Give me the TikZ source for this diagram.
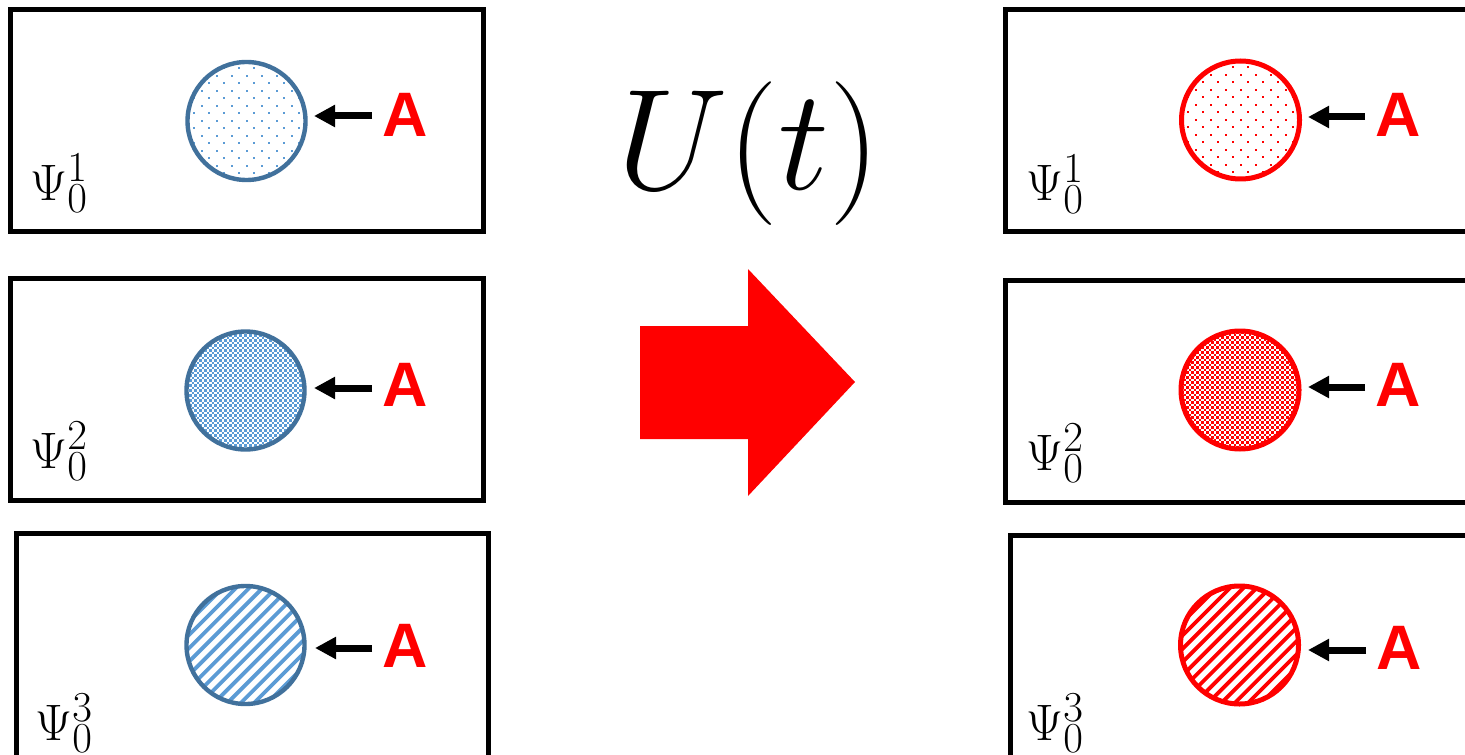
\documentclass[tikz,border=0pt]{standalone}
\usepackage{fontspec}
\newfontfamily\arialfont{Liberation Sans}
\usetikzlibrary{arrows.meta}
\definecolor{bstroke}{HTML}{41719C}
\definecolor{bfill}{HTML}{5B9BD5}
\definecolor{rred}{HTML}{FF0000}
\tikzset{
  framebox/.style={draw=black, line width=2.5pt},
  probe/.style={draw=black, line width=3.5pt, -{Triangle[length=10.5pt,width=10.5pt]}},
  alabel/.style={text=rred, font=\arialfont\bfseries\fontsize{31.4}{36}\selectfont, inner sep=0pt},
  psilabel/.style={anchor=base west, inner sep=0pt, scale=1.03, font=\fontsize{24.88}{30}\selectfont},
  bigmath/.style={anchor=base, inner sep=0pt, scale=2.89, font=\fontsize{24.88}{30}\selectfont},
  blobb/.style={circle, draw=bstroke, line width=2.2pt, minimum size=59pt, inner sep=0pt},
  blobr/.style={circle, draw=rred, line width=2.5pt, minimum size=59pt, inner sep=0pt},
  bigarrow/.style={fill=rred, draw=none},
}
% sparse offset dots: cx cy colour
\newcommand\sparsedots[3]{%
  \begin{scope}
    \clip (#1,#2) circle (59);
    \foreach \j in {0,...,16}{
      \pgfmathsetmacro\yy{#2-60+7.5*\j}
      \pgfmathsetmacro\off{7.5*mod(\j,2)}
      \foreach \i in {0,...,8}{
        \fill[#3] ({#1-60+\off+15*\i-1},{\yy-1}) rectangle ++(2,2);
      }
    }
  \end{scope}}
% dense offset dots
\newcommand\densedots[3]{%
  \begin{scope}
    \clip (#1,#2) circle (59);
    \foreach \j in {0,...,48}{
      \pgfmathsetmacro\yy{#2-60+2.5*\j}
      \pgfmathsetmacro\off{2.5*mod(\j,2)}
      \foreach \i in {0,...,24}{
        \fill[#3] ({#1-60+\off+5*\i-1.1},{\yy-1.1}) rectangle ++(2.2,2.2);
      }
    }
  \end{scope}}
% diagonal stripes
\newcommand\stripes[3]{%
  \begin{scope}
    \clip (#1,#2) circle (59);
    \foreach \k in {-12,...,12}{
      \draw[#3, line width=1.9pt] ({#1+13.3*\k-80},{#2+80}) -- ({#1+13.3*\k+80},{#2-80});
    }
  \end{scope}}
\begin{document}
\begin{tikzpicture}[x=0.5pt,y=-0.5pt]
\clip (0,0) rectangle (1465,754);
\fill[white] (0,0) rectangle (1465,754);

% frames
\draw[framebox] (10,10) rectangle (483,231);
\draw[framebox] (10.5,278) rectangle (483,500);
\draw[framebox] (16.5,533) rectangle (488.5,770);
\draw[framebox] (1005,10) rectangle (1480,231.5);
\draw[framebox] (1005,280) rectangle (1480,502);
\draw[framebox] (1010.5,535) rectangle (1480,770);

% patterns
\sparsedots{246.5}{121}{bfill}
\densedots{245.5}{390.5}{bfill}
\stripes{245.5}{645}{bfill}
\sparsedots{1240.5}{120}{rred}
\densedots{1240}{390}{rred}
\stripes{1239.5}{645}{rred}

% circles
\node[blobb] (cl1) at (246.5,121) {};
\node[blobb] (cl2) at (245.5,390.5) {};
\node[blobb] (cl3) at (245.5,645) {};
\node[blobr] (cr1) at (1240.5,120) {};
\node[blobr] (cr2) at (1240,390) {};
\node[blobr] (cr3) at (1239.5,645) {};

% A labels
\node[alabel] (al1) at (405,115) {A};
\node[alabel] (al2) at (405,385) {A};
\node[alabel] (al3) at (405,646) {A};
\node[alabel] (ar1) at (1398,115) {A};
\node[alabel] (ar2) at (1398,385) {A};
\node[alabel] (ar3) at (1399,648) {A};

% probe arrows
\coordinate (tl1) at (372,116); \coordinate (hl1) at (314,116);
\coordinate (tl2) at (372,388); \coordinate (hl2) at (314,388);
\coordinate (tl3) at (372,648); \coordinate (hl3) at (315,648);
\coordinate (tr1) at (1365,117); \coordinate (hr1) at (1308,117);
\coordinate (tr2) at (1365,387); \coordinate (hr2) at (1308,387);
\coordinate (tr3) at (1366,650); \coordinate (hr3) at (1308,650);
\draw[probe] (tl1) -- (hl1);
\draw[probe] (tl2) -- (hl2);
\draw[probe] (tl3) -- (hl3);
\draw[probe] (tr1) -- (hr1);
\draw[probe] (tr2) -- (hr2);
\draw[probe] (tr3) -- (hr3);

% Psi labels
\node[psilabel] (pl1) at (30,200) {$\Psi_0^1$};
\node[psilabel] (pl2) at (30,468) {$\Psi_0^2$};
\node[psilabel] (pl3) at (35,740) {$\Psi_0^3$};
\node[psilabel] (pr1) at (1026,201) {$\Psi_0^1$};
\node[psilabel] (pr2) at (1026,470) {$\Psi_0^2$};
\node[psilabel] (pr3) at (1026,740) {$\Psi_0^3$};

% U(t) and big arrow
\node[bigmath] (ut) at (749,190) {$U(t)$};
\path[bigarrow] (640,326) -- (748,326) -- (748,269) -- (855,382) -- (748,496) -- (748,439) -- (640,439) -- cycle;
\end{tikzpicture}
\end{document}
